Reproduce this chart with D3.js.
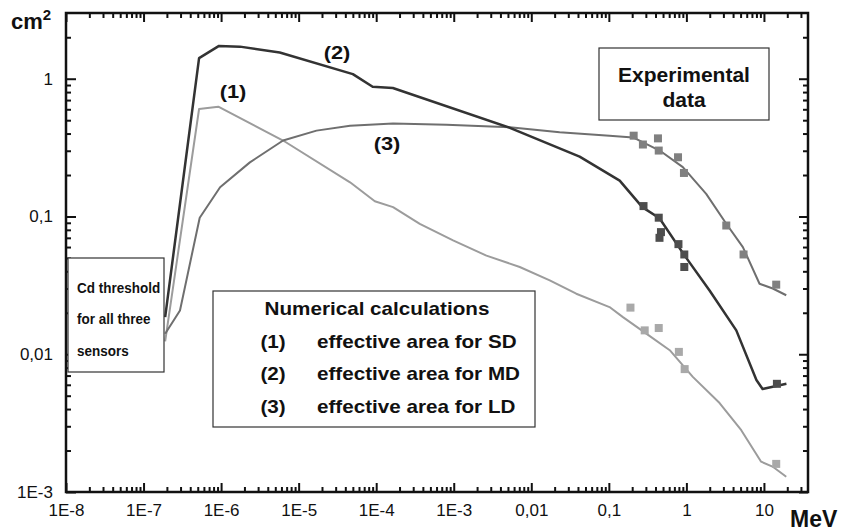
<!DOCTYPE html>
<html>
<head>
<meta charset="utf-8">
<script src="https://cdn.jsdelivr.net/npm/d3@7"></script>
<style>
  body { margin: 0; background: #fff; }
  svg { font-family: Arial, "Liberation Sans", sans-serif; }
</style>
</head>
<body>
<svg width="841" height="531"></svg>
<script>
// curve (1) SD
const sdEnergy = [1.9e-7, 5.2e-7, 9.2e-7, 6.3e-6, 4.6e-5, 9.6e-5, 1.65e-4, 3.65e-4, 9.8e-4, 2.64e-3, 7.1e-3, 0.0173, 0.038, 0.102, 0.152, 0.304, 0.61, 1.21, 2.68, 5.1, 9.2, 12.9, 19.4];
const sdArea = [0.0124, 0.603, 0.627, 0.356, 0.177, 0.129, 0.117, 0.0885, 0.067, 0.052, 0.043, 0.0344, 0.0275, 0.022, 0.0186, 0.0141, 0.0107, 0.00685, 0.00442, 0.00281, 0.00166, 0.00153, 0.00129];
// curve (2) MD
const mdEnergy = [1.9e-7, 5.2e-7, 9.4e-7, 1.75e-6, 5.7e-6, 5e-5, 9e-5, 1.64e-4, 5.3e-3, 0.042, 0.138, 0.27, 0.45, 0.95, 1.99, 4.4, 8.0, 9.6, 19.5];
const mdArea = [0.0186, 1.41, 1.73, 1.71, 1.55, 1.08, 0.875, 0.857, 0.44, 0.272, 0.182, 0.117, 0.097, 0.052, 0.029, 0.0149, 0.0065, 0.0056, 0.0061];
// curve (3) LD
const ldEnergy = [1.9e-7, 2.95e-7, 5.3e-7, 9.7e-7, 2.35e-6, 6.3e-6, 1.7e-5, 4.6e-5, 1.65e-4, 8.05e-4, 5.3e-3, 0.0232, 0.102, 0.205, 0.452, 0.9, 1.8, 3.27, 5.35, 8.77, 13.0, 19.4];
const ldArea = [0.0141, 0.0208, 0.098, 0.163, 0.247, 0.356, 0.42, 0.456, 0.474, 0.464, 0.444, 0.408, 0.386, 0.375, 0.301, 0.228, 0.146, 0.0885, 0.06, 0.0325, 0.03, 0.0268];

// experimental points
const expSdEnergy = [0.19, 0.29, 0.44, 0.8, 0.95, 14.4];
const expSdArea = [0.0218, 0.0149, 0.0155, 0.0104, 0.0078, 0.0016];
const expMdEnergy = [0.28, 0.44, 0.47, 0.45, 0.79, 0.94, 0.94, 14.7];
const expMdArea = [0.119, 0.098, 0.077, 0.07, 0.063, 0.053, 0.043, 0.0061];
const expLdEnergy = [0.209, 0.275, 0.43, 0.44, 0.78, 0.93, 3.27, 5.46, 14.4];
const expLdArea = [0.386, 0.333, 0.369, 0.301, 0.269, 0.207, 0.086, 0.053, 0.032];

const xMajor = [1e-8, 1e-7, 1e-6, 1e-5, 1e-4, 1e-3, 0.01, 0.1, 1, 10];
const xLabels = ['1E-8', '1E-7', '1E-6', '1E-5', '1E-4', '1E-3', '0,01', '0,1', '1', '10'];
const yMajor = [1e-3, 0.01, 0.1, 1];
const yLabels = ['1E-3', '0,01', '0,1', '1'];

const svg = d3.select('svg');
const mLeft = 66, mRight = 808, mTop = 13, mBottom = 492;

const x = d3.scaleLog().domain([1e-8, 37]).range([mLeft, mRight]);
const y = d3.scaleLog().domain([1e-3, 3]).range([mBottom, mTop]);

// minor ticks 2..9 in each decade
function minors(lo, hi) {
  const out = [];
  for (let e = lo; e <= hi; e++) {
    for (let k = 2; k <= 9; k++) out.push(k * Math.pow(10, e));
  }
  return out;
}
const xMinor = minors(-8, 1).filter(v => v < 37);
const yMinor = minors(-3, 0).filter(v => v < 2.95);

const xFmt = v => xLabels[xMajor.indexOf(v)];
const yFmt = v => yLabels[yMajor.indexOf(v)];

// bottom
svg.append('g').attr('transform', `translate(0,${mBottom})`)
  .call(d3.axisBottom(x).tickValues(xMajor).tickFormat(xFmt).tickSizeInner(-9).tickSizeOuter(0).tickPadding(12));
svg.append('g').attr('transform', `translate(0,${mBottom})`)
  .call(d3.axisBottom(x).tickValues(xMinor).tickFormat('').tickSizeInner(-5).tickSizeOuter(0));
// top
svg.append('g').attr('transform', `translate(0,${mTop})`)
  .call(d3.axisTop(x).tickValues(xMajor).tickFormat('').tickSizeInner(-9).tickSizeOuter(0));
svg.append('g').attr('transform', `translate(0,${mTop})`)
  .call(d3.axisTop(x).tickValues(xMinor).tickFormat('').tickSizeInner(-5).tickSizeOuter(0));
// left
svg.append('g').attr('transform', `translate(${mLeft},0)`)
  .call(d3.axisLeft(y).tickValues(yMajor).tickFormat(yFmt).tickSizeInner(-10).tickSizeOuter(0).tickPadding(13));
svg.append('g').attr('transform', `translate(${mLeft},0)`)
  .call(d3.axisLeft(y).tickValues(yMinor).tickFormat('').tickSizeInner(-5).tickSizeOuter(0));
// right
svg.append('g').attr('transform', `translate(${mRight},0)`)
  .call(d3.axisRight(y).tickValues(yMajor).tickFormat('').tickSizeInner(-9).tickSizeOuter(0));
svg.append('g').attr('transform', `translate(${mRight},0)`)
  .call(d3.axisRight(y).tickValues(yMinor).tickFormat('').tickSizeInner(-5).tickSizeOuter(0));

svg.selectAll('.domain').remove();
svg.selectAll('.tick line').attr('stroke', '#111').attr('stroke-width', 2);
svg.selectAll('.tick text').attr('font-size', 17).attr('fill', '#111');

svg.append('rect')
  .attr('x', mLeft).attr('y', mTop)
  .attr('width', mRight - mLeft).attr('height', mBottom - mTop)
  .attr('fill', 'none').attr('stroke', '#111').attr('stroke-width', 2.5);

// curves
const line = d3.line().x(d => x(d[0])).y(d => y(d[1]));
const curves = [
  { e: sdEnergy, a: sdArea, color: '#9c9c9c', w: 2 },
  { e: ldEnergy, a: ldArea, color: '#6f6f6f', w: 2 },
  { e: mdEnergy, a: mdArea, color: '#333333', w: 2.5 }
];
curves.forEach(c => {
  svg.append('path')
    .datum(d3.zip(c.e, c.a))
    .attr('d', line)
    .attr('fill', 'none')
    .attr('stroke', c.color)
    .attr('stroke-width', c.w)
    .attr('stroke-linejoin', 'round');
});

// experimental squares
const sq = 8;
const pointSets = [
  { e: expLdEnergy, a: expLdArea, color: '#808080' },
  { e: expSdEnergy, a: expSdArea, color: '#a9a9a9' },
  { e: expMdEnergy, a: expMdArea, color: '#4d4d4d' }
];
pointSets.forEach(p => {
  svg.append('g').selectAll('rect')
    .data(d3.zip(p.e, p.a))
    .enter()
    .append('rect')
    .attr('x', d => x(d[0]) - sq / 2)
    .attr('y', d => y(d[1]) - sq / 2)
    .attr('width', sq)
    .attr('height', sq)
    .attr('fill', p.color);
});

// text helper
function txt(px, py, s, size, anchor, sx) {
  return svg.append('text')
    .attr('transform', `translate(${px},${py}) scale(${sx || 1},1)`)
    .attr('font-size', size)
    .attr('font-weight', 'bold')
    .attr('text-anchor', anchor)
    .attr('fill', '#111')
    .text(s);
}

// axis titles
const cm = svg.append('text').attr('x', 11).attr('y', 29)
  .attr('font-size', 22).attr('font-weight', 'bold').attr('fill', '#111');
cm.append('tspan').text('cm');
cm.append('tspan').attr('font-size', 15).attr('dy', -9).text('2');
txt(790, 527, 'MeV', 23, 'start');

// curve labels
txt(233, 98, '(1)', 19, 'middle', 1.15);
txt(337, 59, '(2)', 19, 'middle', 1.15);
txt(387, 150, '(3)', 19, 'middle', 1.15);

// boxes
function box(x0, y0, x1, y1) {
  svg.append('rect')
    .attr('x', x0).attr('y', y0)
    .attr('width', x1 - x0).attr('height', y1 - y0)
    .attr('fill', '#fff').attr('stroke', '#333').attr('stroke-width', 1.2);
}
box(599, 48, 769, 120);
txt(684, 82, 'Experimental', 21, 'middle');
txt(684, 107, 'data', 21, 'middle');

box(68, 258, 164, 372);
txt(77, 293, 'Cd threshold', 14.5, 'start', 0.93);
txt(77, 324, 'for all three', 14.5, 'start', 0.93);
txt(77, 356, 'sensors', 14.5, 'start', 0.93);

box(213, 291, 535, 427);
txt(377, 315, 'Numerical calculations', 17.5, 'middle', 1.18);
const rows = ['(1)', '(2)', '(3)'];
const rowText = ['effective area for SD', 'effective area for MD', 'effective area for LD'];
rows.forEach((r, i) => {
  txt(273, 348 + i * 32.3, r, 17.5, 'middle', 1.18);
  txt(317, 348 + i * 32.3, rowText[i], 17.5, 'start', 1.18);
});
</script>
</body>
</html>
